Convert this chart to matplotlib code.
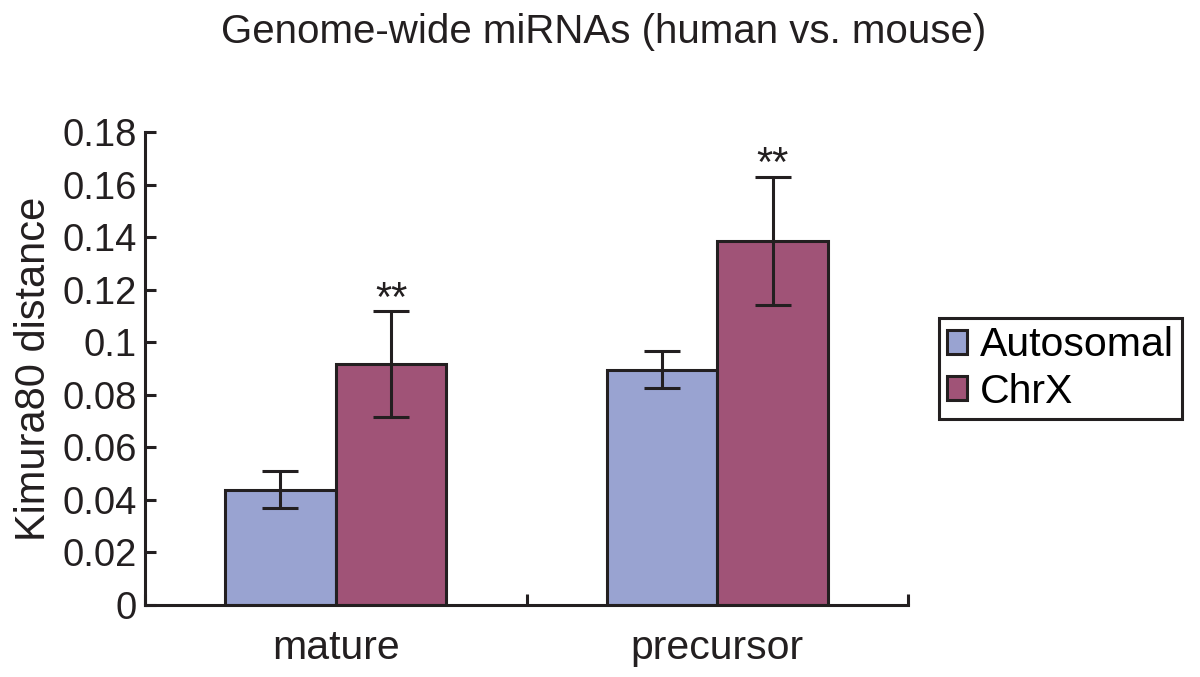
import matplotlib
matplotlib.use("Agg")
import matplotlib.pyplot as plt
import numpy as np

plt.rcParams['font.family'] = ['Liberation Sans', 'DejaVu Sans']

categories = ["mature", "precursor"]
series = ["Autosomal", "ChrX"]
autosomal = [0.0438, 0.0895]
autosomal_err = [0.007, 0.007]
chrx = [0.0917, 0.1385]
chrx_err = [0.020, 0.0245]
stars = ["**", "**"]

c_auto = "#99a3d1"
c_chrx = "#a05377"
dark = "#231f20"

fig = plt.figure(figsize=(12, 6.77), dpi=100)
ax = fig.add_axes([0.1208, 0.1064, 0.6359, 0.6986])

x = np.arange(len(categories))
w = 0.29
ekw = dict(elinewidth=2.2, capthick=2.2, ecolor=dark)
ax.bar(x - w/2, autosomal, w, yerr=autosomal_err, capsize=13, color=c_auto,
       edgecolor=dark, linewidth=2.2, label=series[0], error_kw=ekw)
ax.bar(x + w/2, chrx, w, yerr=chrx_err, capsize=13, color=c_chrx,
       edgecolor=dark, linewidth=2.2, label=series[1], error_kw=ekw)

for i in range(len(categories)):
    ax.text(x[i] + w/2, chrx[i] + chrx_err[i] + 0.0045, stars[i],
            ha="center", va="center", fontsize=30, color=dark)

ax.set_xlim(-0.5, 1.5)
ax.set_ylim(0, 0.18)
ax.set_yticks(np.arange(0, 0.181, 0.02))
ax.set_yticklabels(["0", "0.02", "0.04", "0.06", "0.08", "0.1", "0.12",
                    "0.14", "0.16", "0.18"])
ax.set_xticks([-0.5, 0.5, 1.5])
ax.set_xticklabels([])
ax.set_xticks(x, minor=True)
ax.set_xticklabels(categories, minor=True)
ax.tick_params(axis="x", which="minor", length=0, pad=17, labelsize=29.5,
               labelcolor=dark)
ax.tick_params(axis="x", which="major", direction="in", length=8, width=2.2,
               color=dark)
ax.tick_params(axis="y", direction="in", length=8, width=2.2, color=dark,
               labelsize=27.5, labelcolor=dark, pad=6)

for s in ["top", "right"]:
    ax.spines[s].set_visible(False)
for s in ["left", "bottom"]:
    ax.spines[s].set_linewidth(2.2)
    ax.spines[s].set_color(dark)

ax.set_ylabel("Kimura80 distance", fontsize=30, color=dark, labelpad=6)
fig.text(0.503, 0.953, "Genome-wide miRNAs (human vs. mouse)", ha="center",
         va="center", fontsize=29, color=dark)

leg = ax.legend(loc="center left", bbox_to_anchor=(1.04, 0.5), fontsize=29.5,
                frameon=True, fancybox=False, framealpha=1, handlelength=0.5,
                handleheight=0.5, handletextpad=0.3, borderpad=0.2,
                labelspacing=0.2, borderaxespad=0)
leg.get_frame().set_edgecolor(dark)
leg.get_frame().set_linewidth(2.2)

fig.savefig("out.png", dpi=100)
